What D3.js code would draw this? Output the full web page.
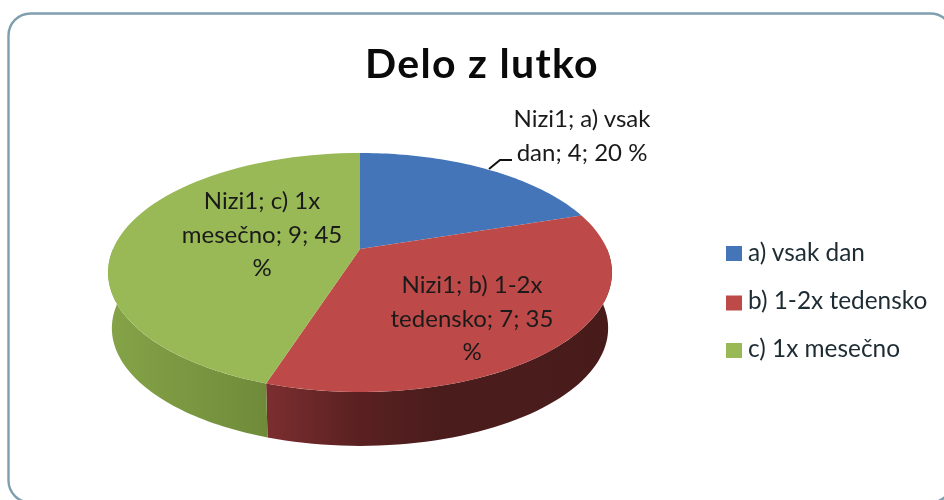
<!DOCTYPE html>
<html><head><meta charset="utf-8"><script src="https://cdn.jsdelivr.net/npm/d3@7"></script>
<style>html,body{margin:0;padding:0;background:#fff;overflow:hidden}svg{display:block;filter:blur(0.6px)}text{font-family:Lato,"Open Sans",sans-serif}</style></head>
<body><svg id="c" width="944" height="500"></svg>
<script>
const titleText = "Delo z lutko";
const seriesName = "Nizi1";
const categories = ["a) vsak dan","b) 1-2x tedensko","c) 1x mesečno"];
const values = [4,7,9];
const colors = ["#4475b8","#bd4a48","#98b955"];
const wallStops = [["#3a6399","#2c4a73"],["#7c2e2f","#5c2122","#4a1c1c","#4a1c1c","#481b1b"],["#85a348","#7a9741","#6f8b3a"]];
const labelLines = [["Nizi1; a) vsak","dan; 4; 20 %"],["Nizi1; b) 1-2x","tedensko; 7; 35","%"],["Nizi1; c) 1x","mesečno; 9; 45","%"]];

const svg = d3.select("#c");
const defs = svg.append("defs");
const cx=360, cy=249, A=114.9, B=247, k=0.1967, depth=56;
const proj=(a,d=0)=>{const u=Math.sin(a),v=-Math.cos(a),w=1-k*v;const s=d?0.985:1;return [cx+s*B*u/w,cy+s*A*v/w+d];};
const arcs=d3.pie().sort(null)(values);
const line=d3.line();
const sample=(a0,a1,d=0)=>d3.range(0,61).map(i=>proj(a0+(a1-a0)*i/60,d));

svg.append("rect").attr("x",8.5).attr("y",13.5).attr("width",944).attr("height",489).attr("rx",22)
  .attr("fill","#fff").attr("stroke","#7f9fae").attr("stroke-width",2.4);

const g=svg.append("g");
const front=[[1,Math.PI/2,arcs[1].endAngle],[2,arcs[2].startAngle,3*Math.PI/2]];
front.forEach(([i,a0,a1])=>{
  const id="w"+i, grad=defs.append("linearGradient").attr("id",id);
  wallStops[i].forEach((c,j,arr)=>grad.append("stop").attr("offset",j/(arr.length-1)).attr("stop-color",c));
  const pts=sample(a0,a1).concat(sample(a1,a0,depth));
  g.append("path").attr("d",line(pts)+"Z").attr("fill",`url(#${id})`);
});
arcs.forEach((s,i)=>{
  const pts=[[cx,cy]].concat(sample(s.startAngle,s.endAngle));
  g.append("path").attr("d",line(pts)+"Z").attr("fill",colors[i]);
});

svg.append("path").attr("d",line([[489,169],[500,160],[512,160]])).attr("fill","none").attr("stroke","#111").attr("stroke-width",2);

svg.append("text").attr("x",482).attr("y",78).attr("text-anchor","middle").attr("font-size",41).attr("letter-spacing",1.3).attr("font-weight",700).attr("fill","#0a0a0a").text(titleText);

const labelPos=[[582,127],[472,293],[262,209]];
labelLines.forEach((ls,i)=>{
  ls.forEach((t,j)=>svg.append("text").attr("x",labelPos[i][0]).attr("y",labelPos[i][1]+j*33.5)
    .attr("text-anchor","middle").attr("font-size",24).attr("fill","#1a1a1a").text(t));
});

const legY=[253,302.5,350];
const legBase=[261,308.5,357];
categories.forEach((c,i)=>{
  svg.append("rect").attr("x",726).attr("y",legY[i]-7).attr("width",16).attr("height",15).attr("fill",colors[i]);
  svg.append("text").attr("x",748).attr("y",legBase[i]).attr("font-size",24.4).attr("fill","#1d2b33").text(c);
});
</script></body></html>
